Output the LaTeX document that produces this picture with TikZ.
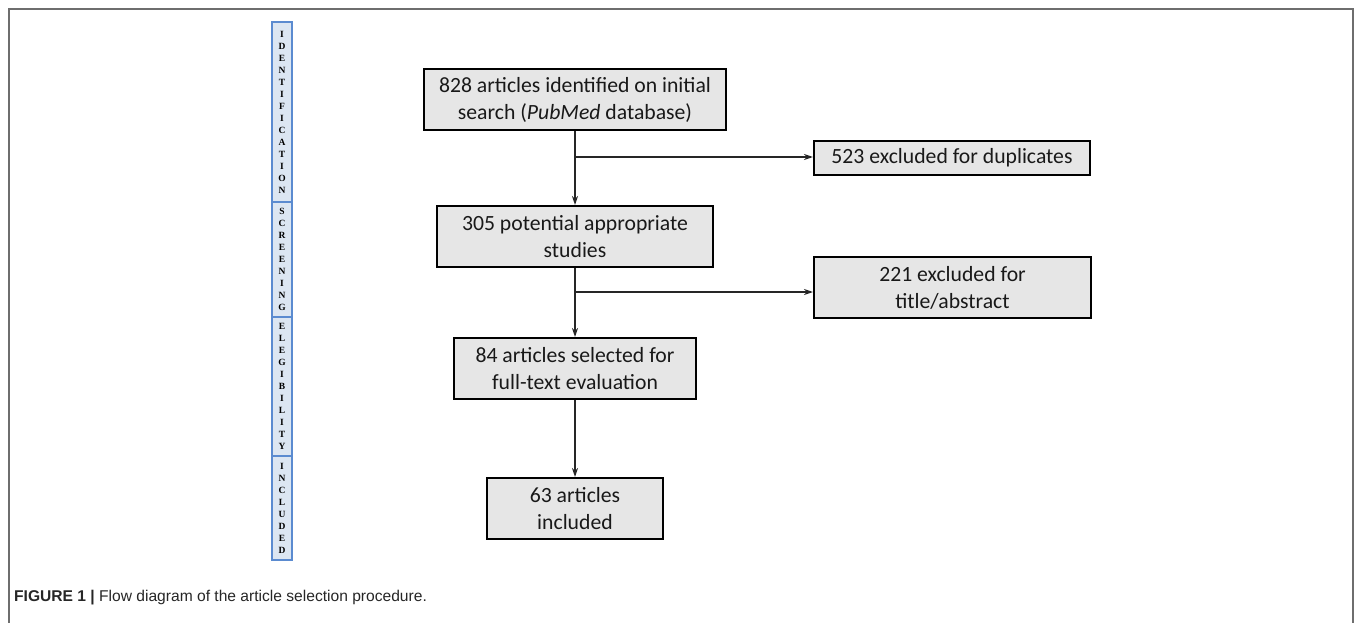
\documentclass[tikz,border=0pt]{standalone}
\usepackage{fontspec}
\setmainfont{Carlito}
\newfontfamily\stripfont{Liberation Serif}
\newfontfamily\capfont{Liberation Sans}
\usetikzlibrary{arrows.meta}
\definecolor{boxfill}{HTML}{E6E6E6}
\definecolor{stripfill}{HTML}{DCE6F2}
\definecolor{stripline}{HTML}{5B8BD0}
\definecolor{framegray}{HTML}{6E6E6E}
\begin{document}
\begin{tikzpicture}[x=1pt,y=-1pt,
  flowbox/.style={draw=black, line width=2pt, fill=boxfill, inner sep=0pt, align=center,
    font=\fontsize{21.7}{27}\selectfont, text=black!90},
  stripseg/.style={draw=stripline, line width=1.2pt, fill=stripfill, minimum width=20pt,
    inner sep=0pt, align=center, font=\stripfont\bfseries\fontsize{9.5}{12}\selectfont},
  conn/.style={line width=1.6pt, draw=black!85},
  arr/.style={conn, -{Stealth[length=9pt,width=6pt]}}]
\useasboundingbox (0,0) rectangle (1355,623);
\draw[framegray, line width=1.2pt] (9,623) -- (9,9) -- (1353,9) -- (1353,623);

% phase strip
\node[stripseg, minimum height=180pt] (s1) at (282,112) {I\\D\\E\\N\\T\\I\\F\\I\\C\\A\\T\\I\\O\\N};
\node[stripseg, minimum height=115pt] (s2) at (282,259.5) {S\\C\\R\\E\\E\\N\\I\\N\\G};
\node[stripseg, minimum height=139pt] (s3) at (282,386.5) {E\\L\\E\\G\\I\\B\\I\\L\\I\\T\\Y};
\node[stripseg, minimum height=104pt] (s4) at (282,508) {I\\N\\C\\L\\U\\D\\E\\D};

% boxes
\node[flowbox, minimum width=302pt, minimum height=61pt] (b1) at (575,99.5)
  {828 articles identified on initial\\search (\textit{PubMed} database)};
\node[flowbox, minimum width=276pt, minimum height=34pt] (b2) at (952,158)
  {523 excluded for duplicates};
\node[flowbox, minimum width=276pt, minimum height=61pt] (b3) at (575,236.5)
  {305 potential appropriate\\studies};
\node[flowbox, minimum width=277pt, minimum height=61pt] (b4) at (952.5,287.5)
  {221 excluded for\\title/abstract};
\node[flowbox, minimum width=242pt, minimum height=61pt] (b5) at (575,368.5)
  {84 articles selected for\\full-text evaluation};
\node[flowbox, minimum width=176pt, minimum height=61pt] (b6) at (575,508.5)
  {63 articles\\included};

% connectors
\coordinate (j1) at (575,157);
\coordinate (j2) at (575,292);
\draw[arr] (b1) -- (b3);
\draw[arr] (j1) -- (b2.west |- j1);
\draw[arr] (b3) -- (b5);
\draw[arr] (j2) -- (b4.west |- j2);
\draw[arr] (b5) -- (b6);

% caption
\node[anchor=base west, inner sep=0pt, font=\capfont\fontsize{15.6}{18}\selectfont, text=black!85] (cap) at (14,601)
  {\textbf{FIGURE 1 |} Flow diagram of the article selection procedure.};
\end{tikzpicture}
\end{document}
